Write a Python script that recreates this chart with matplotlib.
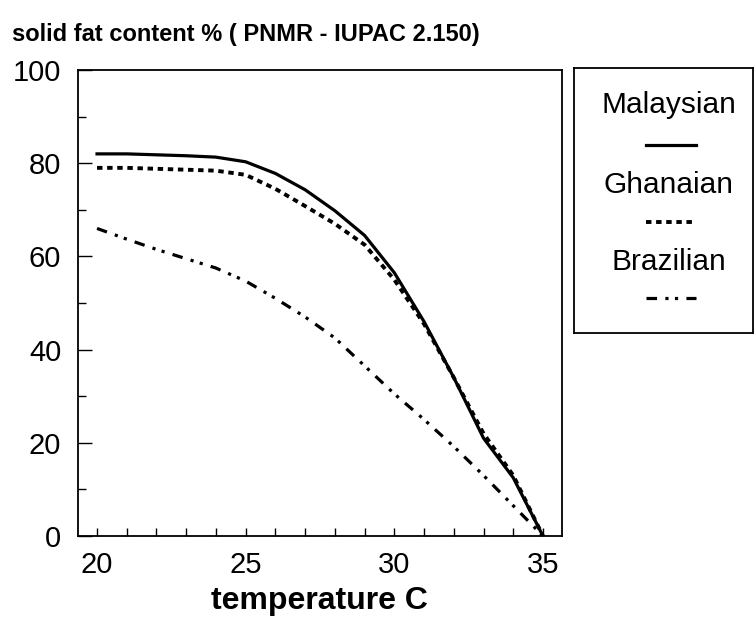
import matplotlib
matplotlib.use("Agg")
import matplotlib.pyplot as plt
from matplotlib.ticker import MultipleLocator
from matplotlib.lines import Line2D

plt.rcParams['font.family'] = ['Liberation Sans', 'DejaVu Sans']

temperature = [20, 21, 22, 23, 24, 25, 26, 27, 28, 29, 30, 31, 32, 33, 34, 35]
malaysian = [82, 82, 81.8, 81.6, 81.3, 80.3, 77.8, 74.3, 69.8, 64.5, 56.5, 46, 34, 21, 12.5, 0]
ghanaian = [79, 79, 78.8, 78.6, 78.4, 77.5, 74.5, 70.8, 67, 62.5, 55, 45.5, 34, 22, 13, 0]
brazilian = [66, 63.7, 61.5, 59.5, 57.5, 54.7, 51, 47, 42.5, 36.5, 30.5, 25, 19.2, 13, 6.5, 0]
series_names = ["Malaysian", "Ghanaian", "Brazilian"]
x_ticks = [20, 25, 30, 35]
y_ticks = [0, 20, 40, 60, 80, 100]
title = "solid fat content % ( PNMR - IUPAC 2.150)"
xlabel = "temperature C"

fig = plt.figure(figsize=(7.55, 6.23), dpi=100)
ax = fig.add_axes([78/755, 1-536/623, (561.7-78)/755, (536-70)/623])

styles = [
    dict(color='black', lw=2.3, linestyle='-'),
    dict(color='black', lw=2.8, linestyle=(0, (1.4, 1.2))),
    dict(color='black', lw=2.3, linestyle=(0, (3.3, 2.6, 1, 2, 1, 2.6))),
]
for ys, st in zip([malaysian, ghanaian, brazilian], styles):
    ax.plot(temperature, ys, **st)

ax.set_xlim(19.36, 35.63)
ax.set_ylim(0, 100)
ax.set_xticks(x_ticks)
ax.set_yticks(y_ticks)
ax.xaxis.set_minor_locator(MultipleLocator(1))
ax.yaxis.set_minor_locator(MultipleLocator(10))
ax.tick_params(axis='both', which='major', direction='in', labelsize=21, width=1, color='black')
ax.tick_params(axis='y', which='major', length=10, pad=12)
ax.tick_params(axis='x', which='major', length=6, pad=11)
ax.tick_params(axis='both', which='minor', direction='in', length=6, width=1)
for s in ax.spines.values():
    s.set_linewidth(1.3)
ax.set_xlabel(xlabel, fontsize=23, fontweight='bold', labelpad=5)

fig.text(12/755, 1-35/623, title, fontsize=17, fontweight='bold', ha='left', va='center')

# legend box
lax = fig.add_axes([574/755, 1-333/623, (753-574)/755, (333-68)/623])
lax.set_xlim(0, 1)
lax.set_ylim(0, 1)
lax.set_xticks([])
lax.set_yticks([])
for s in lax.spines.values():
    s.set_linewidth(1.3)
h = 333 - 68
label_y = [105, 185, 262]
sample_y = [145, 222, 298]
for name, st, ly, sy in zip(series_names, styles, label_y, sample_y):
    lax.text(0.53, (333-ly)/h, name, fontsize=21.5, ha='center', va='center', transform=lax.transAxes)
    yy = (333-sy)/h
    lax.add_line(Line2D([0.40, 0.68], [yy, yy], transform=lax.transAxes, **st))

fig.savefig("out.png", dpi=100)
